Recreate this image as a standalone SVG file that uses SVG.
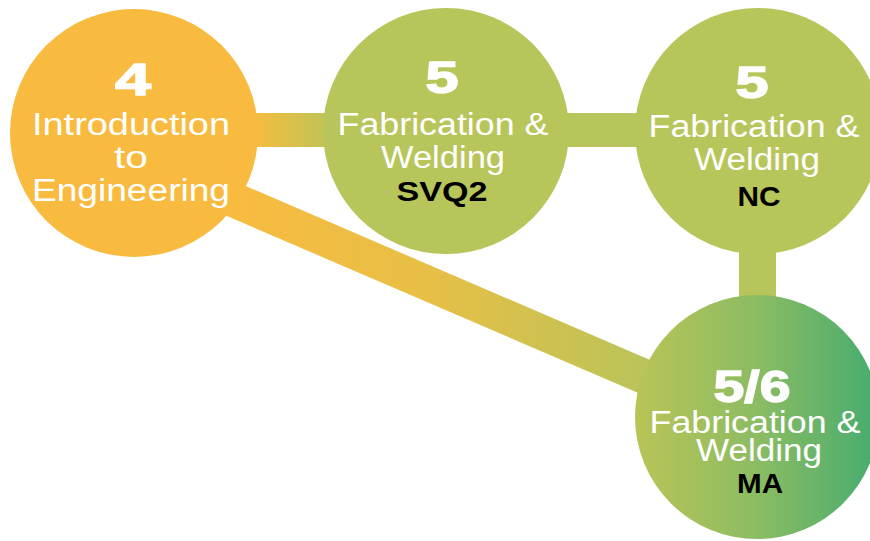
<svg xmlns="http://www.w3.org/2000/svg" width="870" height="541" viewBox="0 0 870 541">
<defs>
<linearGradient id="gBar1" gradientUnits="userSpaceOnUse" x1="255" y1="0" x2="328" y2="0">
<stop offset="0" stop-color="#F6BC40"/><stop offset="1" stop-color="#BEC456"/>
</linearGradient>
<linearGradient id="gDiag" gradientUnits="userSpaceOnUse" x1="240" y1="0" x2="650" y2="0">
<stop offset="0" stop-color="#F7BB40"/><stop offset="0.45" stop-color="#E8BF46"/><stop offset="1" stop-color="#B9C459"/>
</linearGradient>
<linearGradient id="gNode4" gradientUnits="userSpaceOnUse" x1="635" y1="0" x2="879" y2="0">
<stop offset="0" stop-color="#BAC456"/><stop offset="0.5" stop-color="#8CBC63"/><stop offset="1" stop-color="#45AC6F"/>
</linearGradient>
<style>
.orange{fill:#F8BB40}
.green{fill:#B8C55B}
.num{font-family:"Liberation Sans",Arial,sans-serif;font-weight:700;fill:#fff;stroke:#fff;stroke-width:1.4;text-anchor:middle}
.lbl{font-family:"Liberation Sans",Arial,sans-serif;font-size:31px;fill:#fff;text-anchor:middle}
.code{font-family:"Liberation Sans",Arial,sans-serif;font-weight:700;font-size:27px;fill:#000;text-anchor:middle}
</style>
</defs>
<g id="connectors">
<rect x="240" y="113" width="100" height="34" fill="url(#gBar1)"/>
<rect x="550" y="113" width="100" height="34" fill="#B8C55B"/>
<rect x="739" y="230" width="37" height="80" fill="#B8C55B"/>
<line x1="134" y1="157" x2="757" y2="425" stroke="url(#gDiag)" stroke-width="35"/>
</g>
<g id="node-intro">
<circle class="orange" cx="134" cy="133" r="124"/>
<text class="num" x="133" y="95" font-size="45" textLength="36" lengthAdjust="spacingAndGlyphs">4</text>
<text class="lbl" x="131" y="135" textLength="198" lengthAdjust="spacingAndGlyphs">Introduction</text>
<text class="lbl" x="131" y="168" textLength="34" lengthAdjust="spacingAndGlyphs">to</text>
<text class="lbl" x="131" y="201" textLength="198" lengthAdjust="spacingAndGlyphs">Engineering</text>
</g>
<g id="node-svq2">
<circle class="green" cx="446" cy="131" r="123"/>
<text class="num" x="442" y="93" font-size="45" textLength="33" lengthAdjust="spacingAndGlyphs">5</text>
<text class="lbl" x="443" y="135" textLength="211" lengthAdjust="spacingAndGlyphs">Fabrication &amp;</text>
<text class="lbl" x="443" y="168" textLength="124" lengthAdjust="spacingAndGlyphs">Welding</text>
<text class="code" x="442" y="201" textLength="91" lengthAdjust="spacingAndGlyphs">SVQ2</text>
</g>
<g id="node-nc">
<circle class="green" cx="758" cy="131" r="123"/>
<text class="num" x="752" y="98" font-size="45" textLength="33" lengthAdjust="spacingAndGlyphs">5</text>
<text class="lbl" x="754" y="137" textLength="211" lengthAdjust="spacingAndGlyphs">Fabrication &amp;</text>
<text class="lbl" x="757" y="170" textLength="126" lengthAdjust="spacingAndGlyphs">Welding</text>
<text class="code" x="759" y="206" textLength="43" lengthAdjust="spacingAndGlyphs">NC</text>
</g>
<g id="node-ma">
<circle cx="757" cy="417" r="122" fill="url(#gNode4)"/>
<text class="num" x="752" y="402" font-size="45" textLength="77" lengthAdjust="spacingAndGlyphs">5/6</text>
<text class="lbl" x="755" y="433" textLength="211" lengthAdjust="spacingAndGlyphs">Fabrication &amp;</text>
<text class="lbl" x="759" y="461" textLength="126" lengthAdjust="spacingAndGlyphs">Welding</text>
<text class="code" x="760" y="493" textLength="46" lengthAdjust="spacingAndGlyphs">MA</text>
</g>
</svg>
